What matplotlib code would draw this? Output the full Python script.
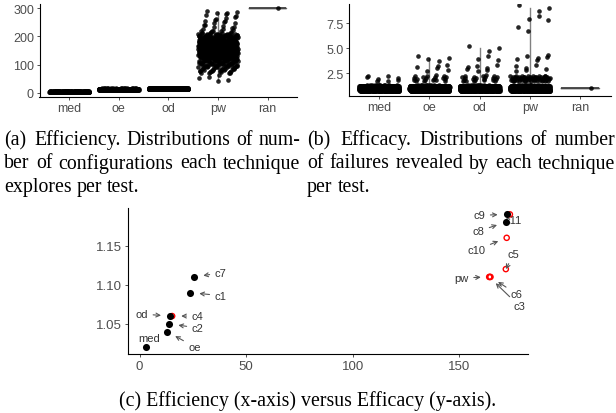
import numpy as np
import matplotlib.pyplot as plt

plt.rcParams['font.family'] = ['Liberation Sans', 'DejaVu Sans']

W, H = 616, 414

CATS = ['med', 'oe', 'od', 'pw', 'ran']

# (a) configurations explored per test: value levels -> number of tests
conf_levels = {
    'med': [2, 3, 4, 5],
    'oe': [10, 11, 12, 13, 14, 15],
    'od': [12, 13, 14, 15, 16],
    'pw': [45, 55, 65, 75, 85, 95, 105, 115, 125, 135, 145, 155, 165,
           175, 185, 195, 205, 215, 225, 235, 245, 255, 265, 275, 285],
    'ran': [300],
}
conf_counts = {
    'med': [140, 200, 150, 70],
    'oe': [60, 100, 140, 130, 90, 40],
    'od': [80, 140, 180, 110, 50],
    'pw': [2, 2, 3, 12, 15, 20, 25, 30, 40, 50, 55, 55, 50,
           50, 45, 40, 30, 10, 5, 4, 4, 3, 3, 3, 4],
    'ran': [1],
}
# pw was read in bins of 10 configurations
conf_spread = {'med': 0.4, 'oe': 0.4, 'od': 0.4, 'pw': 5.0, 'ran': 0.4}

# (b) failures revealed per test
fail_levels = {
    'med': [1, 2],
    'oe': [1, 2, 3, 4],
    'od': [1, 2, 3, 4, 5],
    'pw': [1, 2, 3, 4, 7, 8, 9],
    'ran': [1],
}
fail_counts = {
    'med': [552, 8],
    'oe': [530, 20, 6, 4],
    'od': [525, 22, 7, 3, 3],
    'pw': [480, 60, 6, 6, 2, 3, 3],
    'ran': [1],
}

# (c) efficiency vs efficacy
tech_names = ['c4', 'c10', 'c5', 'pw', 'c6', 'c3', 'c11',
              'med', 'oe', 'c2', 'od', 'c1', 'c7', 'c9', 'c8']
tech_eff = [15.3, 172.2, 171.8, 164.3, 164.6, 164.0, 173.7,
            2.9, 13.0, 14.0, 14.3, 23.8, 25.7, 172.2, 171.7]
tech_acc = [1.06, 1.16, 1.12, 1.11, 1.11, 1.11, 1.19,
            1.02, 1.04, 1.05, 1.06, 1.09, 1.11, 1.19, 1.18]
tech_red = [True, True, True, True, True, True, True,
            False, False, False, False, False, False, False, False]

# label placement (pixel offsets from the point, y down), arrow or not
label_dx = {'med': 3, 'oe': 27, 'c2': 28, 'od': -28, 'c4': 25, 'c1': 30, 'c7': 26,
            'c9': -27, 'c8': -27, 'c11': 3, 'c10': -30, 'c5': 8, 'pw': -28,
            'c6': 26, 'c3': 30}
label_dy = {'med': -9, 'oe': 15, 'c2': 4, 'od': -2, 'c4': 0, 'c1': 3, 'c7': -4,
            'c9': 1, 'c8': 9, 'c11': 6, 'c10': 12, 'c5': -15, 'pw': 1,
            'c6': 17, 'c3': 29}
no_arrow = ['med', 'c11']

fig = plt.figure(figsize=(W / 100, H / 100), dpi=100)


def px_axes(l, t, r, b):
    return fig.add_axes([l / W, 1 - b / H, (r - l) / W, (b - t) / H])


def spread(n, alpha):
    # deterministic, evenly filled jitter in [-1, 1]
    return 2 * ((alpha * np.arange(1, n + 1)) % 1.0) - 1


def style(ax, size):
    for s in ['top', 'right']:
        ax.spines[s].set_visible(False)
    for s in ['left', 'bottom']:
        ax.spines[s].set_linewidth(0.8)
    ax.tick_params(length=2, width=0.6, color='#333333', labelcolor='#4d4d4d',
                   labelsize=size, pad=2)


def jitter_panel(ax, levels, counts, heights):
    for i, c in enumerate(CATS):
        vals = np.repeat(levels[c], counts[c]).astype(float)
        ax.boxplot(vals, positions=[i], widths=0.75, whis=(0, 100), showfliers=False,
                   showcaps=False,
                   boxprops=dict(color='#666666', lw=1),
                   whiskerprops=dict(color='#808080', lw=1),
                   medianprops=dict(color='#444444', lw=1.3))
        h = heights[c] if isinstance(heights, dict) else heights
        xs = i + 0.4 * spread(len(vals), 0.7548776662)
        ys = vals + h * spread(len(vals), 0.5698402910)
        ax.scatter(xs, ys, s=11, c='black', alpha=0.85, lw=0, zorder=3)
    ax.set_xlim(-0.6, 4.6)
    ax.set_xticks(range(len(CATS)))
    ax.set_xticklabels(CATS)


# (a)
ax_a = px_axes(39.5, 5, 297.3, 97.7)
jitter_panel(ax_a, conf_levels, conf_counts, conf_spread)
ax_a.set_ylim(-14, 314.5)
ax_a.set_yticks([0, 100, 200, 300])
style(ax_a, 9)

# (b)
ax_b = px_axes(349, 5, 610.5, 96.7)
jitter_panel(ax_b, fail_levels, fail_counts, 0.3)
ax_b.set_ylim(0.27, 9.43)
ax_b.set_yticks([2.5, 5.0, 7.5])
ax_b.set_yticklabels(['2.5', '5.0', '7.5'])
style(ax_b, 9)

# (c)
ax_c = px_axes(127.6, 208.7, 528, 355)
ax_c.set_xlim(-5.6, 182.2)
ax_c.set_ylim(1.0115, 1.1985)
ax_c.set_xticks([0, 50, 100, 150])
ax_c.set_yticks([1.05, 1.10, 1.15])
ax_c.set_yticklabels(['1.05', '1.10', '1.15'])
style(ax_c, 9.5)

red = np.array(tech_red)
ex = np.array(tech_eff)
ey = np.array(tech_acc)
ax_c.scatter(ex[red], ey[red], s=14, facecolors='none', edgecolors='#ff0000',
             linewidths=1.0, zorder=3)
ax_c.scatter(ex[~red], ey[~red], s=26, c='black', lw=0, zorder=4)

for name, x, y in zip(tech_names, tech_eff, tech_acc):
    arrow = None
    if name not in no_arrow:
        arrow = dict(arrowstyle='->', color='#555555', lw=0.8,
                     shrinkA=1.5, shrinkB=6.5, mutation_scale=7)
    ax_c.annotate(name, xy=(x, y), xytext=(label_dx[name], -label_dy[name]),
                  textcoords='offset pixels', ha='center', va='center',
                  fontsize=8, color='#333333', arrowprops=arrow,
                  zorder=2 if name == 'c11' else 5)


# captions
renderer = fig.canvas.get_renderer()
CAP_SIZE = 14.3


def caption_line(text, x0, x1, y, justify, lead=0.0):
    words = text.split()
    objs = [fig.text(0, 0, w, fontsize=CAP_SIZE, family='Liberation Serif',
                     va='baseline', ha='left', color='black') for w in words]
    widths = [t.get_window_extent(renderer).width for t in objs]
    if justify and len(words) > 1:
        gap = (x1 - x0 - sum(widths) - lead) / (len(words) - 1)
    else:
        gap = CAP_SIZE * 0.25 * 100 / 72
    x = x0
    for k, (t, wd) in enumerate(zip(objs, widths)):
        t.set_position((x / W, 1 - y / H))
        x += wd + gap + (lead if k == 0 else 0)


cap_a = ['(a) Efficiency. Distributions of num-',
         'ber of configurations each technique',
         'explores per test.']
cap_b = ['(b) Efficacy. Distributions of number',
         'of failures revealed by each technique',
         'per test.']
for k in range(3):
    y = 145 + 23.5 * k
    caption_line(cap_a[k], 4, 300, y, k < 2, lead=3 if k == 0 else 0)
    caption_line(cap_b[k], 307, 615, y, k < 2, lead=3 if k == 0 else 0)

fig.text(308 / W, 1 - 406 / H, '(c) Efficiency (x-axis) versus Efficacy (y-axis).',
         fontsize=CAP_SIZE, family='Liberation Serif', ha='center', va='baseline')

fig.savefig('out.png', dpi=100)
